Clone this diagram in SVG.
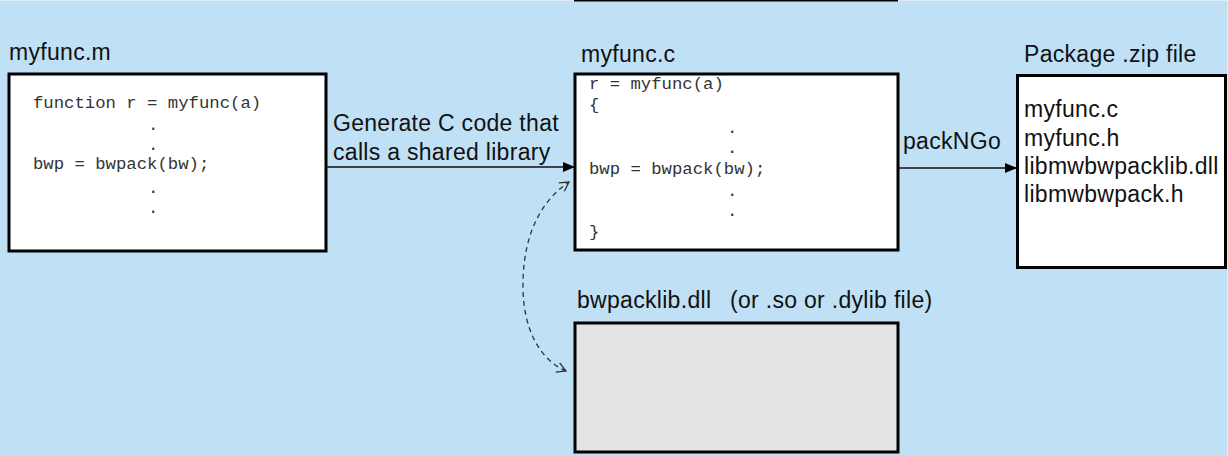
<svg xmlns="http://www.w3.org/2000/svg" width="1228" height="456" viewBox="0 0 1228 456">
<defs>
<style>
.bg{fill:#C0E0F6}
.box{fill:#fff;stroke:#000;stroke-width:3}
.lib{fill:#E4E4E4;stroke:#000;stroke-width:3}
.t{font-family:"Liberation Sans",Arial,sans-serif;font-size:23px;letter-spacing:0.3px;fill:#111}
.c{font-family:"Liberation Mono","Courier New",monospace;font-size:17.3px;fill:#333}
.ln{stroke:#111;stroke-width:1.5;fill:none}
.dash{stroke:#333;stroke-width:1.3;fill:none;stroke-dasharray:5 4}
</style>
<marker id="fa" markerWidth="12" markerHeight="10" refX="11" refY="5" orient="auto" markerUnits="userSpaceOnUse">
<path d="M0,0 L12,5 L0,10 Z" fill="#000"/>
</marker>
<marker id="oa" markerWidth="12" markerHeight="12" refX="10" refY="6" orient="auto-start-reverse" markerUnits="userSpaceOnUse">
<path d="M1,1 L10,6 L1,11" fill="none" stroke="#333" stroke-width="1.3"/>
</marker>
</defs>
<rect x="0" y="0" width="1228" height="456" fill="#DDEEF9"/>
<rect class="bg" x="0" y="1" width="1227" height="455"/>
<rect x="574" y="-4" width="324" height="5.5" fill="#000"/>

<g id="node-myfunc-m">
<text class="t" x="9" y="60">myfunc.m</text>
<rect class="box" x="9" y="74" width="317" height="177"/>
<text class="c" x="33" y="108">function r = myfunc(a)</text>
<text class="c" x="148" y="130">.</text>
<text class="c" x="148" y="150">.</text>
<text class="c" x="33" y="169">bwp = bwpack(bw);</text>
<text class="c" x="148" y="193">.</text>
<text class="c" x="148" y="213">.</text>
</g>

<g id="node-myfunc-c">
<text class="t" x="581" y="62">myfunc.c</text>
<rect class="box" x="575" y="74" width="323" height="176"/>
<text class="c" x="589" y="89">r = myfunc(a)</text>
<text class="c" x="589" y="110">{</text>
<text class="c" x="727" y="133">.</text>
<text class="c" x="727" y="153">.</text>
<text class="c" x="589" y="174">bwp = bwpack(bw);</text>
<text class="c" x="727" y="196">.</text>
<text class="c" x="727" y="216">.</text>
<text class="c" x="589" y="237">}</text>
</g>

<g id="node-package">
<text class="t" x="1024" y="62">Package .zip file</text>
<rect class="box" x="1017.5" y="75.5" width="208" height="192"/>
<text class="t" x="1024" y="117">myfunc.c</text>
<text class="t" x="1024" y="146">myfunc.h</text>
<text class="t" x="1024" y="174">libmwbwpacklib.dll</text>
<text class="t" x="1024" y="202">libmwbwpack.h</text>
</g>

<g id="node-bwpacklib">
<text class="t" x="577" y="308">bwpacklib.dll</text>
<text class="t" x="730" y="308">(or .so or .dylib file)</text>
<rect class="lib" x="575" y="323" width="323" height="129"/>
</g>

<g id="connectors">
<line class="ln" x1="326" y1="167" x2="574" y2="167" marker-end="url(#fa)"/>
<text class="t" x="333" y="131">Generate C code that</text>
<text class="t" x="333" y="160">calls a shared library</text>
<line class="ln" x1="898" y1="168" x2="1016" y2="168" marker-end="url(#fa)"/>
<text class="t" x="903" y="149">packNGo</text>
<path class="dash" d="M566,371 C540,360 524,330 523,290 C522,245 535,205 569,182" marker-start="url(#oa)" marker-end="url(#oa)"/>
</g>
</svg>
